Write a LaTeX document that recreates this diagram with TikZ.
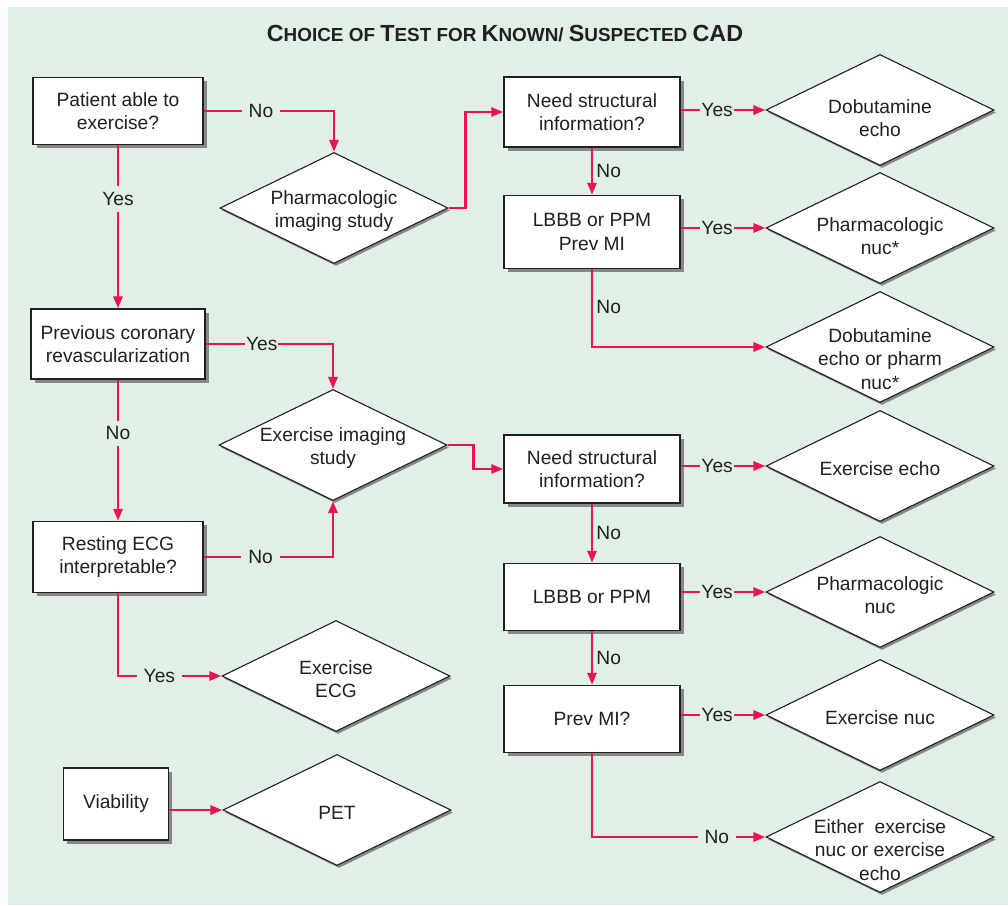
\documentclass[tikz,border=0pt]{standalone}
\usepackage{fontspec}
\setmainfont{Liberation Sans}
\usepackage{tikz}
\usetikzlibrary{arrows.meta,calc,positioning,shapes.geometric,shadows}

\definecolor{bggreen}{RGB}{224,240,230}
\definecolor{flowred}{RGB}{232,22,80}
\definecolor{inkgray}{RGB}{35,31,32}
\definecolor{shadegray}{RGB}{135,135,138}
\newcommand{\tcap}[1]{{\fontsize{23.3}{27}\selectfont #1}}

\begin{document}
\begin{tikzpicture}[x=1pt,y=-1pt,>={Triangle[length=12pt,width=9pt]},
    font=\fontsize{19.2}{23.5}\selectfont,
    box/.style={draw=inkgray,line width=1.3pt,fill=white,text=inkgray,align=center,
      minimum width=176pt,minimum height=70pt,inner sep=2pt,
      drop shadow={shadow xshift=3.5pt,shadow yshift=-3.5pt,fill=shadegray,opacity=1}},
    dia/.style={diamond,draw=inkgray,line width=1.1pt,fill=white,inner sep=0pt,
      minimum width=228pt,minimum height=111pt,
      drop shadow={shadow xshift=2pt,shadow yshift=-2.5pt,fill=shadegray,opacity=1}},
    every label/.style={align=center,text=inkgray,yshift=-3pt},
    flow/.style={->,draw=flowred,line width=2.8pt},
    lbl/.style={fill=bggreen,text=inkgray,inner sep=1pt},
    gap/.style={fill=bggreen,text=inkgray,inner xsep=7pt,inner ysep=2pt},
    vgap/.style={fill=bggreen,text=inkgray,inner xsep=2pt,inner ysep=6pt},
    side/.style={right,text=inkgray,inner sep=3pt}]
  \useasboundingbox (0,0) rectangle (1008,905);
  \fill[white] (0,0) rectangle (1008,905);
  \fill[blue!2] (0,7) rectangle (8,905);
  \fill[bggreen] (8,7) rectangle (1008,905);

  \node[font=\fontsize{18.9}{22}\selectfont\bfseries,text=inkgray] (title) at (505,34)
    {\tcap{C}HOICE OF \tcap{T}EST FOR \tcap{K}NOWN/ \tcap{S}USPECTED \tcap{CAD}};

  % left column
  \node[box,minimum width=170pt,minimum height=67pt] (able) at (118,111) {Patient able to\\exercise?};
  \node[box,minimum width=174pt] (revasc) at (118,344) {Previous coronary\\revascularization};
  \node[box,minimum width=170pt,minimum height=71pt] (restecg) at (118,557) {Resting ECG\\interpretable?};
  \node[box,minimum width=105pt,minimum height=72pt] (viab) at (116,804) {Viability};

  % middle column
  \node[dia,label=center:{Pharmacologic\\imaging study}] (pharm) at (334,208) {};
  \node[dia,label=center:{Exercise imaging\\study}] (eximg) at (333,445) {};
  \node[dia,label=center:{Exercise\\ECG}] (execg) at (336,676) {};
  \node[dia,label=center:PET] (pet) at (337,810) {};

  % right boxes
  \node[box] (need1) at (592,112) {Need structural\\information?};
  \node[box,minimum height=73pt] (lbbb1) at (592,232) {LBBB or PPM\\Prev MI};
  \node[box,minimum height=68pt] (need2) at (592,469) {Need structural\\information?};
  \node[box,minimum height=67pt] (lbbb2) at (592,597) {LBBB or PPM};
  \node[box,minimum height=67pt] (prevmi) at (592,719) {Prev MI?};

  % outcomes
  \node[dia,label={[yshift=-5pt]center:{Dobutamine\\echo}}] (dobecho) at (880,110) {};
  \node[dia,label={[yshift=-5pt]center:{Pharmacologic\\nuc*}}] (pnuc1) at (880,228) {};
  \node[dia,label={[yshift=-9pt]center:{Dobutamine\\echo or pharm\\nuc*}}] (dobpnuc) at (880,347) {};
  \node[dia,label=center:Exercise echo] (execho) at (880,466) {};
  \node[dia,label=center:{Pharmacologic\\nuc}] (pnuc2) at (880,592) {};
  \node[dia,label=center:Exercise nuc] (exnuc) at (880,715) {};
  \node[dia,label={[yshift=-10pt]center:{Either~ exercise\\nuc or exercise\\echo}}] (either) at (880,837) {};

  \draw[flow] (able.east) -| node[gap,pos=0.22]{No} (pharm.north);
  \draw[flow] (able) -- node[vgap,pos=0.33]{Yes} (revasc);
  \draw[flow] (pharm.east) -- ++(17,0) |- (need1.west);
  \draw[flow] (need1.east |- dobecho.west) -- node[lbl,pos=0.43]{Yes} (dobecho.west);
  \draw[flow] (need1) -- node[side]{No} (lbbb1);
  \draw[flow] (lbbb1.east |- pnuc1.west) -- node[lbl,pos=0.43]{Yes} (pnuc1.west);
  \draw[flow] (lbbb1.south) |- node[side,pos=0.24]{No} (dobpnuc.west);

  \draw[flow] (revasc.east) -| node[lbl,pos=0.22]{Yes} (eximg.north);
  \draw[flow] (revasc) -- node[vgap,pos=0.38]{No} (restecg);
  \draw[flow] (restecg.east) -| node[gap,pos=0.22]{No} (eximg.south);
  \draw[flow] (restecg.south) |- node[gap,pos=0.70]{Yes} (execg.west);
  \draw[flow] (viab.east |- pet.west) -- (pet.west);

  \draw[flow] (eximg.east) -- ++(26,0) |- (need2.west);
  \draw[flow] (need2.east |- execho.west) -- node[lbl,pos=0.43]{Yes} (execho.west);
  \draw[flow] (need2) -- node[side]{No} (lbbb2);
  \draw[flow] (lbbb2.east |- pnuc2.west) -- node[lbl,pos=0.43]{Yes} (pnuc2.west);
  \draw[flow] (lbbb2) -- node[side]{No} (prevmi);
  \draw[flow] (prevmi.east |- exnuc.west) -- node[lbl,pos=0.43]{Yes} (exnuc.west);
  \draw[flow] (prevmi.south) |- node[gap,pos=0.86]{No} (either.west);
\end{tikzpicture}
\end{document}
